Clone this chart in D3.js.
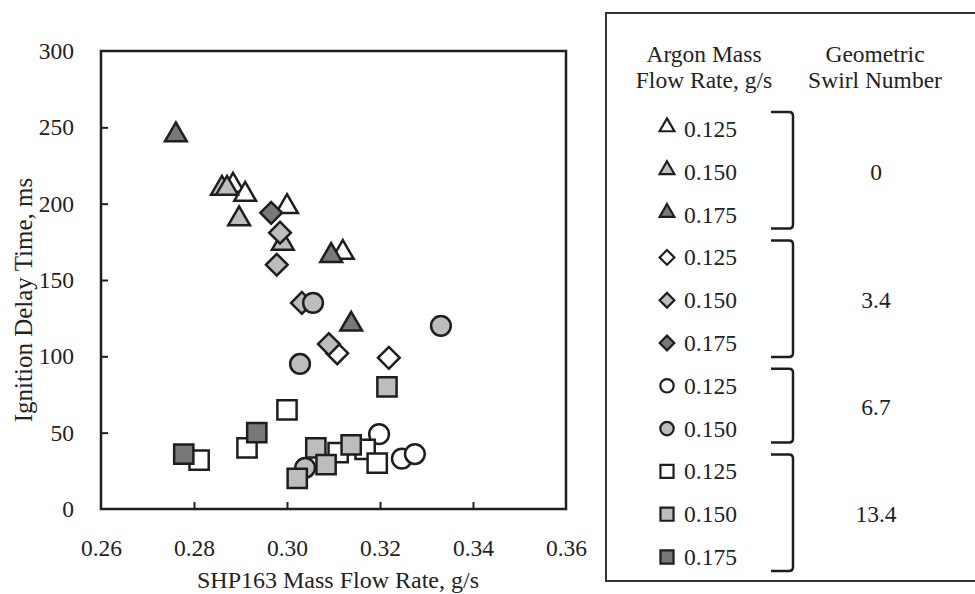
<html>
<head>
<script src="https://d3js.org/d3.v7.min.js"></script>
</head>
<body style="margin:0;background:#fff">
<svg id="chart" width="975" height="594"></svg>
<style>
  text { font-family: "Liberation Serif", "DejaVu Serif", serif; fill: #222; }
</style>
<script>
// data: [SHP163 flow g/s, ignition delay ms]
const tri125 = [[0.2884, 210], [0.2910, 204], [0.3000, 196], [0.3120, 166]];
const tri150 = [[0.2860, 208], [0.2871, 208], [0.2897, 188], [0.2991, 172]];
const tri175 = [[0.2761, 243], [0.3095, 164], [0.3138, 119]];
const dia125 = [[0.3108, 102], [0.3219, 99]];
const dia150 = [[0.2985, 181], [0.2978, 160], [0.3032, 135], [0.3090, 108]];
const dia175 = [[0.2966, 194]];
const cir125 = [[0.3198, 49], [0.3247, 33], [0.3275, 36]];
const cir150 = [[0.3056, 135], [0.3028, 95], [0.3331, 120], [0.3039, 27]];
const sq125 = [[0.3000, 65], [0.2914, 40], [0.2811, 32], [0.3110, 37], [0.3168, 39], [0.3194, 30]];
const sq150 = [[0.3215, 80], [0.3062, 40], [0.3138, 42], [0.3084, 29], [0.3022, 20]];
const sq175 = [[0.2935, 50], [0.2778, 36]];

const argonRates = ['0.125', '0.150', '0.175'];
const swirlNumbers = ['0', '3.4', '6.7', '13.4'];
const xTicks = [0.26, 0.28, 0.30, 0.32, 0.34, 0.36];
const yTicks = [0, 50, 100, 150, 200, 250, 300];

const series = [
  {shape: 'triangle', rate: '0.125', swirl: '0', pts: tri125},
  {shape: 'triangle', rate: '0.150', swirl: '0', pts: tri150},
  {shape: 'triangle', rate: '0.175', swirl: '0', pts: tri175},
  {shape: 'diamond', rate: '0.125', swirl: '3.4', pts: dia125},
  {shape: 'diamond', rate: '0.150', swirl: '3.4', pts: dia150},
  {shape: 'diamond', rate: '0.175', swirl: '3.4', pts: dia175},
  {shape: 'circle', rate: '0.125', swirl: '6.7', pts: cir125},
  {shape: 'circle', rate: '0.150', swirl: '6.7', pts: cir150},
  {shape: 'square', rate: '0.125', swirl: '13.4', pts: sq125},
  {shape: 'square', rate: '0.150', swirl: '13.4', pts: sq150},
  {shape: 'square', rate: '0.175', swirl: '13.4', pts: sq175},
];

const fillOf = d3.scaleOrdinal().domain(argonRates).range(['#ffffff', '#bdbdbd', '#787878']);
const stroke = '#1e1e1e';

const svg = d3.select('svg#chart');
const plot = {left: 101, right: 566, top: 51, bottom: 509};

const x = d3.scaleLinear().domain([0.26, 0.36]).range([plot.left, plot.right]);
const y = d3.scaleLinear().domain([0, 300]).range([plot.bottom, plot.top]);

// symbol generator per shape; scale factor k for legend
function symPath(shape, k) {
  if (shape === 'triangle') return d3.symbol(d3.symbolTriangle, 205 * k * k)();
  if (shape === 'diamond') return d3.symbol(d3.symbolSquare, 235 * k * k)();
  if (shape === 'circle') return d3.symbol(d3.symbolCircle, 305 * k * k)();
  return d3.symbol(d3.symbolSquare, 370 * k * k)();
}
function symRot(shape) { return shape === 'diamond' ? ' rotate(45)' : ''; }
function symShift(shape, k) { return shape === 'triangle' ? -3 * k : 0; }

// frame
svg.append('rect')
  .attr('x', plot.left).attr('y', plot.top)
  .attr('width', plot.right - plot.left).attr('height', plot.bottom - plot.top)
  .attr('fill', 'none').attr('stroke', '#1e1e1e').attr('stroke-width', 2.5);

const xAxis = svg.append('g')
  .attr('transform', `translate(0,${plot.bottom})`)
  .call(d3.axisBottom(x).tickValues(xTicks).tickFormat(d3.format('.2f')).tickSizeInner(-7).tickSizeOuter(0).tickPadding(30));
const yAxis = svg.append('g')
  .attr('transform', `translate(${plot.left},0)`)
  .call(d3.axisLeft(y).tickValues(yTicks).tickSizeInner(-7).tickSizeOuter(0).tickPadding(27));

[xAxis, yAxis].forEach(a => {
  a.select('path.domain').remove();
  a.selectAll('line').attr('stroke', '#1e1e1e').attr('stroke-width', 2);
  a.selectAll('text').attr('font-size', 23.5).attr('fill', '#222')
    .style('font-family', '"Liberation Serif", serif');
});
xAxis.selectAll('.tick').filter(d => d === 0.26 || d === 0.36).select('line').remove();
yAxis.selectAll('.tick').filter(d => d === 0 || d === 300).select('line').remove();

svg.append('text')
  .attr('x', 338).attr('y', 588)
  .attr('text-anchor', 'middle').attr('font-size', 24)
  .text('SHP163 Mass Flow Rate, g/s');
svg.append('text')
  .attr('transform', `translate(32,300) rotate(-90)`)
  .attr('text-anchor', 'middle').attr('font-size', 25)
  .text('Ignition Delay Time, ms');

// markers
const marks = svg.append('g');
series.forEach(s => {
  marks.selectAll(null)
    .data(s.pts)
    .join('path')
    .attr('d', symPath(s.shape, 1))
    .attr('transform', d => `translate(${x(d[0])},${y(d[1]) + symShift(s.shape, 1)})${symRot(s.shape)}`)
    .attr('fill', fillOf(s.rate))
    .attr('stroke', stroke)
    .attr('stroke-width', 2.5)
    .attr('stroke-linejoin', 'miter');
});

// legend
const lg = svg.append('g');
lg.append('rect')
  .attr('x', 606).attr('y', 13).attr('width', 400).attr('height', 568)
  .attr('fill', 'none').attr('stroke', '#333').attr('stroke-width', 2);

const headL = lg.append('text').attr('text-anchor', 'middle').attr('font-size', 23.5);
headL.append('tspan').attr('x', 704).attr('y', 62).text('Argon Mass');
headL.append('tspan').attr('x', 704).attr('y', 88).text('Flow Rate, g/s');
const headR = lg.append('text').attr('text-anchor', 'middle').attr('font-size', 23.5);
headR.append('tspan').attr('x', 875).attr('y', 62).text('Geometric');
headR.append('tspan').attr('x', 875).attr('y', 88).text('Swirl Number');

const rowY = d3.scalePoint().domain(d3.range(series.length)).range([129, 557]);

series.forEach((s, i) => {
  const yy = rowY(i);
  lg.append('path')
    .attr('d', symPath(s.shape, 0.68))
    .attr('transform', `translate(667,${yy + symShift(s.shape, 0.68)})${symRot(s.shape)}`)
    .attr('fill', fillOf(s.rate))
    .attr('stroke', stroke)
    .attr('stroke-width', 2.2);
  lg.append('text')
    .attr('x', 684).attr('y', yy + 8)
    .attr('font-size', 23.5)
    .text(s.rate);
});

// brackets grouping rows by swirl number
swirlNumbers.forEach(sw => {
  const idx = series.map((s, i) => s.swirl === sw ? i : -1).filter(i => i >= 0);
  const first = d3.min(idx), last = d3.max(idx);
  const y0 = rowY(first) - 17, y1 = rowY(last) + 14;
  const xr = 793, xl = 771, r = 4;
  lg.append('path')
    .attr('d', `M${xl},${y0} H${xr - r} Q${xr},${y0} ${xr},${y0 + r} V${y1 - r} Q${xr},${y1} ${xr - r},${y1} H${xl}`)
    .attr('fill', 'none').attr('stroke', '#1e1e1e').attr('stroke-width', 2.5);
  lg.append('text')
    .attr('x', 876).attr('y', (rowY(first) + rowY(last)) / 2 + 8)
    .attr('text-anchor', 'middle').attr('font-size', 23.5)
    .text(sw);
});
</script>
</body>
</html>
